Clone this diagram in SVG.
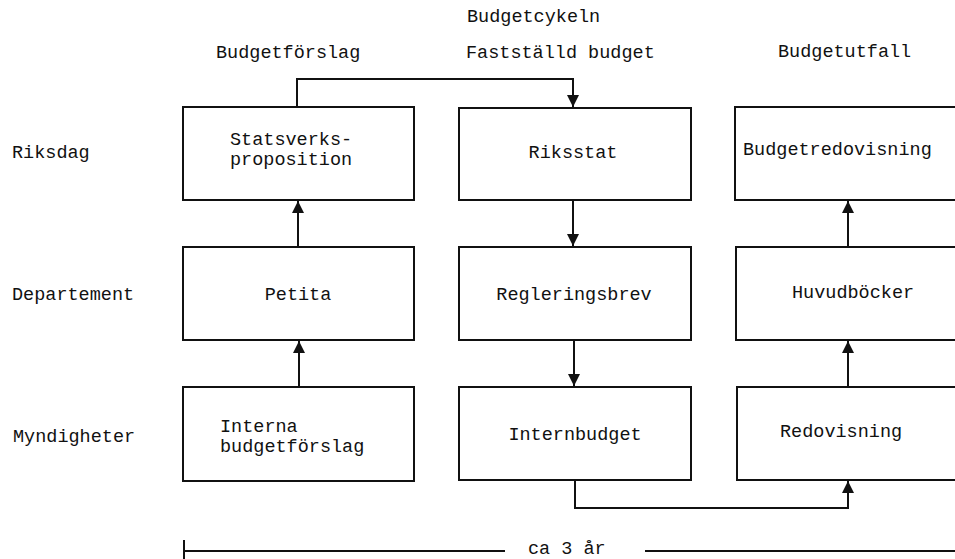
<svg xmlns="http://www.w3.org/2000/svg" width="955" height="559" viewBox="0 0 955 559">
  <style>
    .box { fill: #fff; stroke: #111; stroke-width: 2; }
    .lbl { font-family: "Liberation Mono", "Courier New", monospace; font-size: 18.5px; fill: #111; }
    .mid { text-anchor: middle; }
    .wire { fill: none; stroke: #111; stroke-width: 2; }
  </style>
  <defs>
    <marker id="arrow" markerUnits="userSpaceOnUse" markerWidth="12" markerHeight="14" refX="12" refY="6" orient="auto">
      <path d="M0,0 L12,6 L0,12 Z" fill="#111"/>
    </marker>
  </defs>
  <rect width="955" height="559" fill="#fff"/>

  <!-- headings -->
  <g id="headings">
    <text class="lbl" x="467" y="22">Budgetcykeln</text>
    <text class="lbl" x="216" y="58">Budgetförslag</text>
    <text class="lbl" x="466" y="58">Fastställd budget</text>
    <text class="lbl" x="778" y="57">Budgetutfall</text>
  </g>

  <!-- row labels -->
  <g id="levels">
    <text class="lbl" x="12" y="158">Riksdag</text>
    <text class="lbl" x="12" y="300">Departement</text>
    <text class="lbl" x="13" y="442">Myndigheter</text>
  </g>

  <!-- column 1: budget proposals -->
  <g id="statsverksproposition">
    <rect class="box" x="183" y="107" width="231" height="93"/>
    <text class="lbl" x="230" y="145">Statsverks-</text>
    <text class="lbl" x="230" y="165">proposition</text>
  </g>
  <g id="petita">
    <rect class="box" x="183" y="247" width="231" height="93"/>
    <text class="lbl mid" x="298" y="300">Petita</text>
  </g>
  <g id="interna-budgetforslag">
    <rect class="box" x="183" y="387" width="231" height="94"/>
    <text class="lbl" x="220" y="432">Interna</text>
    <text class="lbl" x="220" y="452">budgetförslag</text>
  </g>

  <!-- column 2: adopted budget -->
  <g id="riksstat">
    <rect class="box" x="459" y="108" width="232" height="92"/>
    <text class="lbl mid" x="573" y="158">Riksstat</text>
  </g>
  <g id="regleringsbrev">
    <rect class="box" x="459" y="247" width="232" height="93"/>
    <text class="lbl mid" x="574" y="300">Regleringsbrev</text>
  </g>
  <g id="internbudget">
    <rect class="box" x="459" y="387" width="232" height="93"/>
    <text class="lbl mid" x="575" y="440">Internbudget</text>
  </g>

  <!-- column 3: budget outcome -->
  <g id="budgetredovisning">
    <rect class="box" x="735" y="107" width="240" height="93"/>
    <text class="lbl" x="743" y="155">Budgetredovisning</text>
  </g>
  <g id="huvudbocker">
    <rect class="box" x="736" y="247" width="240" height="93"/>
    <text class="lbl" x="792" y="298">Huvudböcker</text>
  </g>
  <g id="redovisning">
    <rect class="box" x="737" y="387" width="240" height="93"/>
    <text class="lbl" x="780" y="437">Redovisning</text>
  </g>

  <!-- connectors -->
  <g id="connectors">
    <path class="wire" d="M297,107 V79 H573 V107" marker-end="url(#arrow)"/>
    <path class="wire" d="M298,247 V201" marker-end="url(#arrow)"/>
    <path class="wire" d="M299,387 V341" marker-end="url(#arrow)"/>
    <path class="wire" d="M573,200 V246" marker-end="url(#arrow)"/>
    <path class="wire" d="M574,340 V386" marker-end="url(#arrow)"/>
    <path class="wire" d="M575,480 V508 H848 V481" marker-end="url(#arrow)"/>
    <path class="wire" d="M848,387 V341" marker-end="url(#arrow)"/>
    <path class="wire" d="M848,247 V201" marker-end="url(#arrow)"/>
  </g>

  <!-- time span -->
  <g id="timespan">
    <path class="wire" d="M184,540 V559 M184,551 H505 M645,551 H955"/>
    <text class="lbl" x="528" y="554">ca 3 år</text>
  </g>
</svg>
